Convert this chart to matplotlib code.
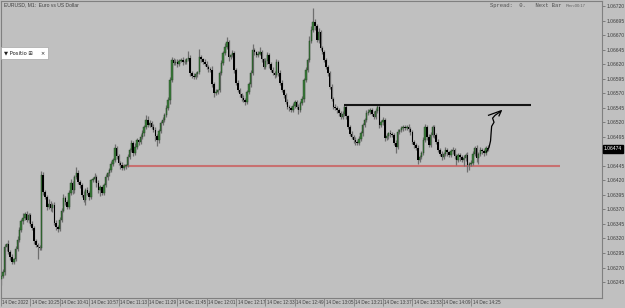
import matplotlib
matplotlib.use('Agg')
import matplotlib.pyplot as plt
import matplotlib.transforms as mtransforms
import numpy as np

# MT4 style chart colours
BG = '#c0c0c0'
BULL = '#3b7d3b'
BEAR = '#000000'
WICK = '#6e6e6e'
NARROW = ['Liberation Sans Narrow', 'Liberation Sans', 'DejaVu Sans']

# ---------------- data (prices in points above 1.06000) ----------------
BASE = 1.06
first_open = 250
closes = [
    255, 262, 305, 310, 296, 288, 280, 284, 302, 318,
    335, 350, 356, 362, 352, 360, 345, 338, 315, 309,
    306, 304, 430, 400, 392, 374, 380, 372, 378, 347,
    340, 336, 352, 368, 390, 382, 374, 398, 415, 403,
    425, 433, 418, 412, 395, 386, 403, 398, 391, 420,
    422, 426, 415, 403, 408, 398, 412, 426, 432, 438,
    448, 455, 476, 462, 450, 446, 441, 444, 446, 460,
    472, 484, 467, 478, 489, 486, 495, 501, 512, 524,
    516, 519, 512, 507, 496, 489, 505, 519, 524, 532,
    545, 558, 593, 627, 622, 624, 620, 626, 627, 623,
    624, 628, 631, 605, 600, 598, 603, 606, 632, 628,
    624, 620, 615, 612, 610, 585, 570, 572, 575, 605,
    622, 639, 650, 658, 632, 635, 639, 610, 588, 575,
    568, 562, 558, 555, 572, 585, 605, 644, 640, 636,
    638, 641, 628, 615, 625, 636, 620, 610, 605, 601,
    624, 605, 588, 575, 567, 555, 546, 544, 541, 548,
    555, 546, 541, 553, 560, 593, 610, 627, 660, 679,
    692, 685, 661, 675, 648, 640, 627, 615, 605, 581,
    560, 546, 544, 541, 536, 529, 535, 546, 530, 512,
    500, 495, 490, 486, 484, 492, 501, 515, 524, 536,
    538, 541, 535, 529, 540, 546, 515, 520, 524, 493,
    497, 501, 499, 498, 485, 477, 503, 506, 510, 512,
    510, 512, 508, 503, 486, 480, 476, 455, 460, 467,
    490, 512, 495, 481, 498, 512, 498, 486, 472, 466,
    460, 466, 472, 468, 464, 470, 472, 462, 455, 464,
    460, 455, 458, 464, 446, 448, 450, 466, 476, 458,
    465, 472, 470, 467, 476, 474,
]
upper_wick = [
    4, 6, 5, 3, 8, 4, 6, 3, 5, 6,
    5, 4, 8, 3, 6, 4, 3, 5, 3, 4,
    4, 3, 6, 5, 4, 3, 8, 4, 3, 5,
    4, 3, 5, 4, 6, 3, 4, 5, 8, 4,
    5, 10, 4, 3, 4, 6, 3, 5, 4, 3,
    4, 6, 3, 5, 4, 3, 4, 5, 3, 4,
    5, 4, 6, 3, 4, 3, 5, 4, 3, 6,
    4, 5, 3, 6, 4, 3, 4, 5, 3, 8,
    6, 4, 3, 5, 4, 3, 4, 3, 5, 4,
    4, 5, 4, 6, 3, 4, 5, 3, 4, 6,
    4, 3, 12, 4, 3, 5, 4, 3, 14, 4,
    3, 4, 5, 4, 3, 6, 4, 5, 3, 4,
    5, 4, 6, 8, 4, 3, 5, 4, 3, 4,
    4, 3, 5, 4, 3, 4, 5, 10, 4, 3,
    5, 8, 4, 3, 5, 4, 3, 4, 5, 3,
    4, 3, 5, 4, 3, 4, 5, 3, 4, 5,
    4, 3, 5, 4, 6, 3, 5, 4, 8, 6,
    25, 5, 4, 8, 4, 3, 5, 4, 3, 4,
    4, 3, 5, 4, 3, 4, 5, 3, 4, 3,
    4, 5, 3, 4, 3, 5, 4, 3, 4, 5,
    5, 4, 3, 5, 4, 6, 3, 4, 5, 3,
    4, 3, 5, 4, 3, 4, 5, 3, 4, 3,
    3, 4, 5, 3, 4, 3, 5, 4, 3, 4,
    4, 5, 3, 4, 5, 4, 3, 4, 5, 3,
    4, 3, 5, 4, 3, 4, 5, 3, 4, 3,
    3, 4, 5, 3, 4, 3, 5, 4, 3, 4,
    4, 5, 3, 4, 3, 4,
]
lower_wick = [
    10, 3, 4, 6, 3, 5, 4, 4, 3, 4,
    4, 3, 5, 4, 3, 6, 4, 3, 5, 4,
    22, 4, 3, 6, 4, 5, 3, 4, 6, 4,
    5, 4, 3, 4, 3, 5, 4, 3, 4, 6,
    4, 3, 5, 6, 3, 4, 8, 3, 4, 3,
    3, 4, 6, 4, 10, 3, 4, 3, 5, 4,
    4, 3, 4, 5, 3, 6, 4, 3, 4, 3,
    3, 4, 5, 3, 4, 6, 3, 4, 5, 3,
    4, 5, 4, 3, 8, 10, 4, 3, 4, 3,
    3, 4, 6, 3, 4, 3, 5, 4, 3, 4,
    3, 4, 3, 5, 4, 3, 4, 5, 3, 4,
    4, 3, 4, 5, 3, 4, 6, 3, 4, 3,
    3, 4, 3, 4, 6, 4, 3, 5, 4, 3,
    4, 5, 3, 6, 4, 3, 4, 3, 5, 4,
    4, 3, 5, 4, 3, 4, 6, 3, 4, 5,
    3, 5, 4, 3, 6, 4, 3, 5, 4, 3,
    3, 4, 6, 3, 4, 5, 3, 4, 3, 4,
    4, 6, 3, 5, 4, 3, 4, 3, 5, 4,
    3, 4, 3, 5, 6, 4, 3, 4, 5, 4,
    3, 4, 5, 6, 4, 3, 4, 5, 3, 4,
    4, 3, 5, 4, 3, 4, 5, 3, 4, 6,
    3, 5, 4, 3, 4, 10, 3, 4, 3, 5,
    4, 3, 4, 5, 3, 4, 3, 6, 4, 3,
    3, 4, 5, 3, 4, 3, 5, 4, 3, 4,
    5, 3, 4, 6, 4, 3, 4, 5, 8, 4,
    6, 4, 10, 5, 12, 8, 4, 3, 4, 6,
    10, 3, 4, 5, 3, 4,
]

time_labels = ['14 Dec 2022', '14 Dec 10:25', '14 Dec 10:41', '14 Dec 10:57', '14 Dec 11:13',
               '14 Dec 11:29', '14 Dec 11:45', '14 Dec 12:01', '14 Dec 12:17', '14 Dec 12:33',
               '14 Dec 12:49', '14 Dec 13:05', '14 Dec 13:21', '14 Dec 13:37', '14 Dec 13:53',
               '14 Dec 14:09', '14 Dec 14:25']
price_ticks = [245, 270, 295, 320, 345, 370, 395, 420, 445, 495, 520, 545, 570, 595,
               620, 645, 670, 695, 720]

# drawn objects: resistance, support, hand drawn arrow (bar index, points)
resist_level, resist_from, resist_to = 550, 187.0, 288.9
support_level, support_from, support_to = 445, 65.8, 304.4
arrow_x = [264.4, 265.8, 266.6, 266.9, 267.2, 268.5, 267.7, 269.1, 271.8]
arrow_y = [469, 477, 488, 501, 513, 520, 527, 532, 538]
head_x = [265.5, 272.5, 271.2]
head_y = [532, 540, 531]

# ---------------- build candles ----------------
c = BASE + np.array(closes) / 1e5
o = np.concatenate([[BASE + first_open / 1e5], c[:-1]])
h = np.maximum(o, c) + np.array(upper_wick) / 1e5
l = np.minimum(o, c) - np.array(lower_wick) / 1e5
idx = np.arange(len(c))

fig = plt.figure(figsize=(6.25, 3.08), dpi=100, facecolor=BG)
ax = fig.add_axes([1 / 625, 10 / 308, 601 / 625, 297 / 308])
ax.set_facecolor(BG)

ax.vlines(idx, l, h, color=WICK, lw=0.9, zorder=2)
up = c >= o
body = np.maximum(np.abs(c - o), 0.8e-5)
ax.bar(idx[up], body[up], bottom=o[up], width=0.8, color=BULL, edgecolor='#1e3e1e', lw=0.3, zorder=3)
ax.bar(idx[~up], body[~up], bottom=c[~up], width=0.8, color=BEAR, lw=0, zorder=3)

ax.hlines(BASE + resist_level / 1e5, resist_from, resist_to, color='#141414', lw=1.5, zorder=4)
ax.hlines(BASE + support_level / 1e5, support_from, support_to, color='#c87070', lw=1.5, zorder=1)
ax.plot(arrow_x, BASE + np.array(arrow_y) / 1e5, color='black', lw=0.9, zorder=5)
ax.plot(head_x, BASE + np.array(head_y) / 1e5, color='black', lw=0.9, zorder=5)

ax.set_xlim(0.22, 327.3)
ax.set_ylim(BASE + 217.6 / 1e5, BASE + 728.6 / 1e5)

# axes look
for s in ax.spines.values():
    s.set_color('#808080')
    s.set_linewidth(0.8)

ax.yaxis.tick_right()
ax.set_yticks([BASE + p / 1e5 for p in price_ticks])
ax.set_yticklabels(['%.5f' % (BASE + p / 1e5) for p in price_ticks])
ax.tick_params(axis='y', length=2, width=0.6, color='#707070', pad=1.5,
               labelsize=3.6, labelcolor='#404040')

ax.set_xticks(np.arange(0, 16 * len(time_labels), 16))
ax.set_xticklabels(time_labels, ha='left')
ax.tick_params(axis='x', length=6, width=0.6, color='#808080', pad=-4.5,
               labelsize=3.3, labelcolor='#404040')
shift = mtransforms.ScaledTranslation(1.5 / 100, 0, fig.dpi_scale_trans)
for lab in ax.get_xticklabels():
    lab.set_transform(lab.get_transform() + shift)
for lab in ax.get_xticklabels() + ax.get_yticklabels():
    lab.set_family(NARROW)

# current price box
last = c[-1]
ax.text(1.003, last, '%.5f' % last,
        transform=mtransforms.blended_transform_factory(ax.transAxes, ax.transData),
        ha='left', va='center', fontsize=3.6, color='white', clip_on=False, zorder=10,
        family=NARROW, bbox=dict(boxstyle='square,pad=0.25', fc='black', ec='black'))

# header texts
fig.text(4 / 625, 1 - 5 / 308, 'EURUSD, M1:  Euro vs US Dollar', fontsize=3.6, color='#404040',
         va='center', family=NARROW)
fig.text(490 / 625, 1 - 6 / 308, 'Spread:  0.   Next Bar', fontsize=4, color='#505050',
         va='center', family='Liberation Mono')
fig.text(566 / 625, 1 - 6 / 308, 'Rmn:00:17', fontsize=3, color='#606060', va='center',
         family=NARROW)

# position panel
fig.text(4 / 625, 1 - 53 / 308, '\u25bc Positio \u229e     \u00d7', fontsize=3.8, color='#202020',
         va='center', family='DejaVu Sans',
         bbox=dict(boxstyle='square,pad=0.6', fc='white', ec='#a8a8a8', lw=0.5))

plt.savefig('out.png', dpi=100, facecolor=BG)
plt.close()
